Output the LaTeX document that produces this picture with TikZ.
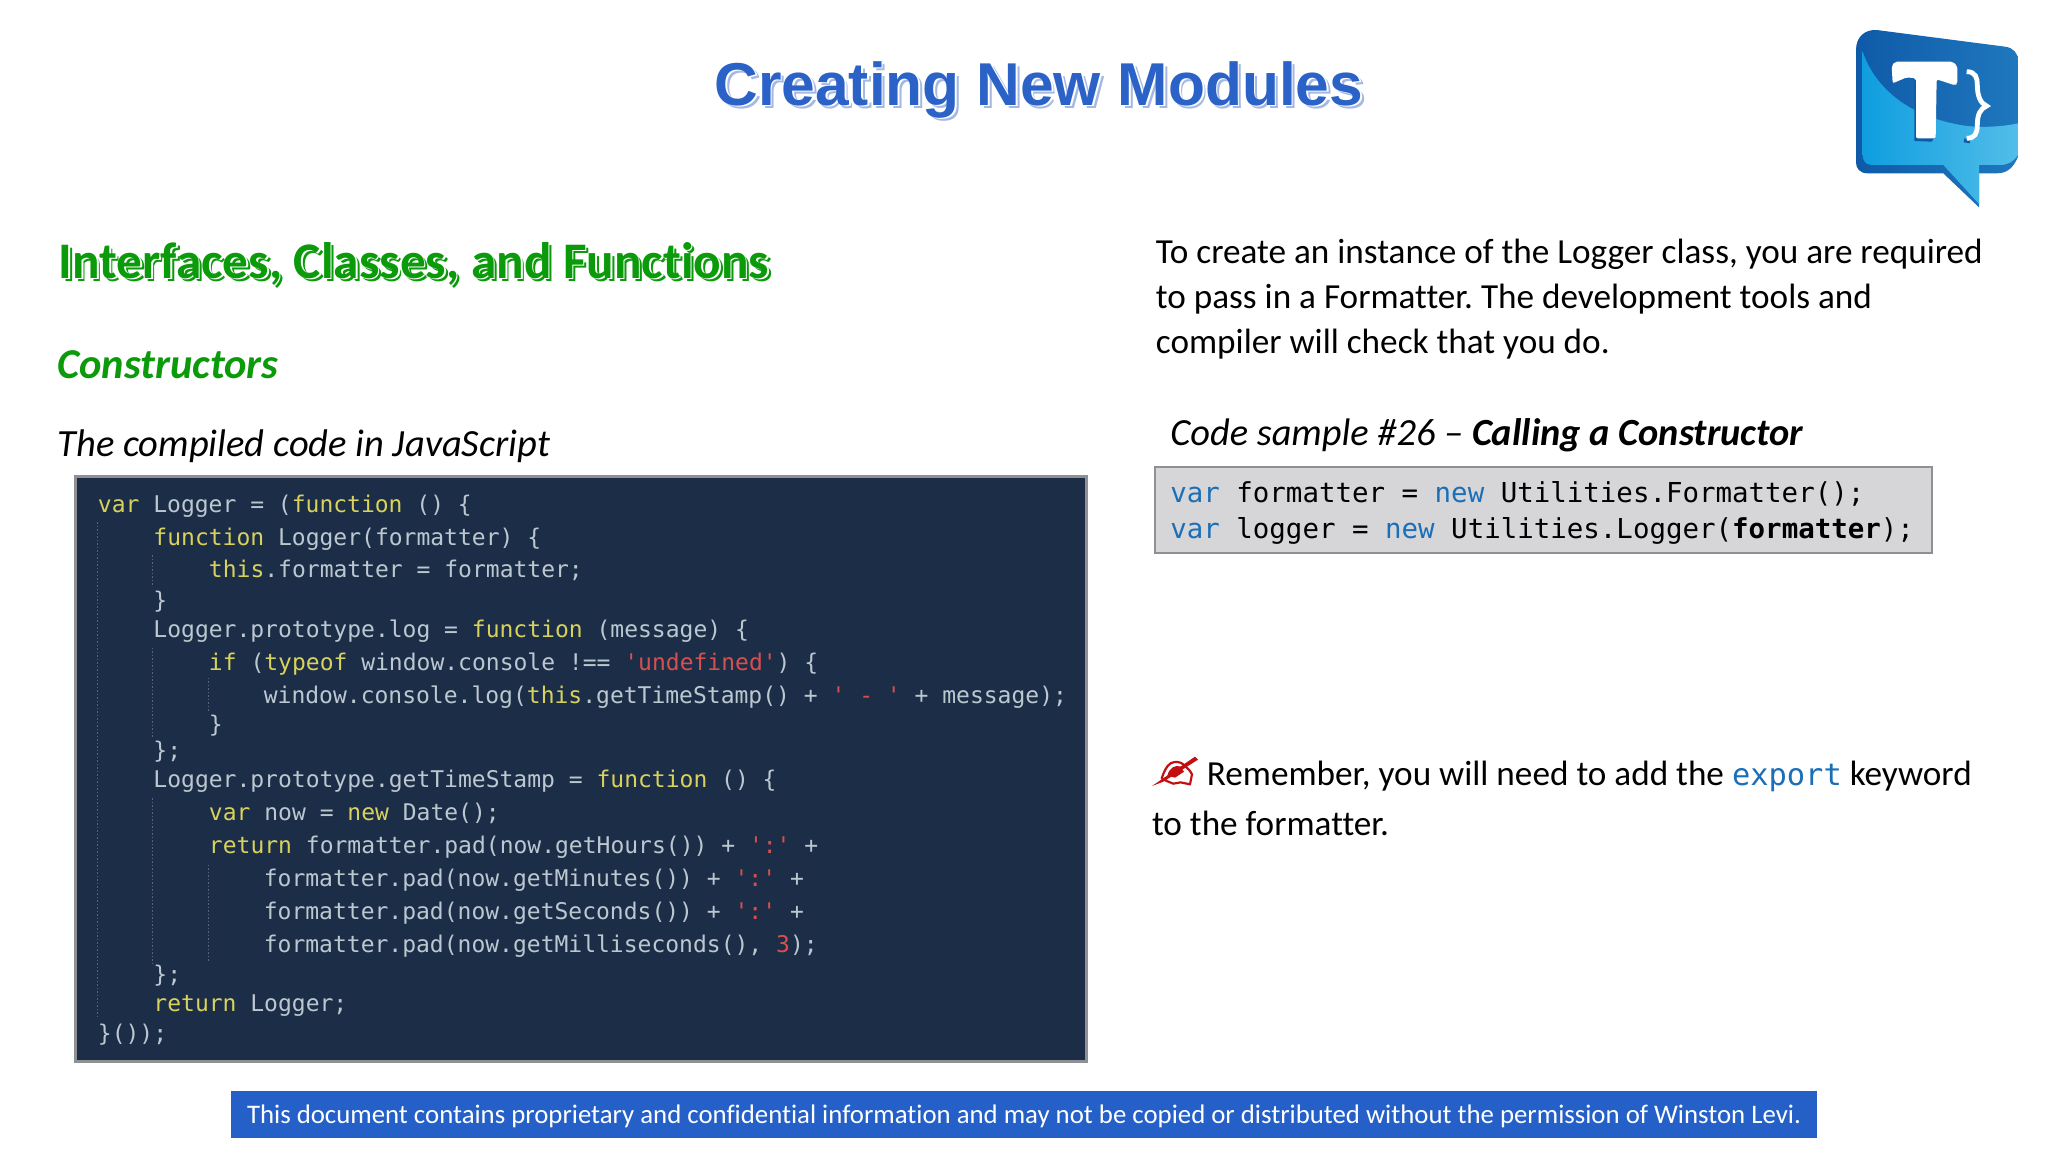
\documentclass[tikz,border=0pt]{standalone}
\usepackage{fontspec}
\setmainfont{Carlito}[Ligatures=NoCommon]
\newfontfamily\titlefont{Liberation Sans}[Scale=1.0]
\newfontfamily\monof{DejaVu Sans Mono}[Ligatures=NoCommon]
\frenchspacing
\definecolor{titleblue}{HTML}{2A62C8}
\definecolor{titleshade}{HTML}{A4B8E2}
\definecolor{headgreen}{HTML}{0A9A0A}
\definecolor{panelbg}{HTML}{1C2D47}
\definecolor{panelkw}{HTML}{D8D25C}
\definecolor{paneltx}{HTML}{BCC8D0}
\definecolor{panelstr}{HTML}{D6504E}
\definecolor{boxgray}{HTML}{D6D6D9}
\definecolor{boxedge}{HTML}{8E9094}
\definecolor{codeblue}{HTML}{1B6FB8}
\definecolor{footblue}{HTML}{2460C8}
\definecolor{penred}{HTML}{C40F12}
\definecolor{guide}{HTML}{56647A}
\definecolor{logoA}{HTML}{0F5AA8}
\definecolor{logoB}{HTML}{1F78BE}
\definecolor{logoC}{HTML}{0F9EDF}
\definecolor{logoD}{HTML}{52BDE9}
\definecolor{logoE}{HTML}{0F5AA8}
\newcommand{\kw}[1]{\textcolor{panelkw}{#1}}
\newcommand{\st}[1]{\textcolor{panelstr}{#1}}
\newcommand{\cb}[1]{\textcolor{codeblue}{#1}}
\newcommand{\shadowed}[4]{% shadow colour, offset, main colour, text
  \rlap{\kern#2\raisebox{-#2}{\textcolor{#1}{#4}}}%
  \rlap{\kern.5\dimexpr#2\relax\raisebox{-.5\dimexpr#2\relax}{\textcolor{white}{#4}}}%
  \textcolor{#3}{#4}}
\tikzset{
  txt/.style={anchor=base west,inner sep=0pt,outer sep=0pt},
  body/.style={txt,font=\fontsize{35.2pt}{40pt}\selectfont,text=black},
  pcode/.style={txt,font=\monof\fontsize{23pt}{23pt}\selectfont,text=paneltx},
  bcode/.style={txt,font=\monof\fontsize{27.45pt}{28pt}\selectfont,text=black},
  guideline/.style={draw=guide,line width=1pt,dash pattern=on 1.5pt off 2pt},
}
\begin{document}
\begin{tikzpicture}[x=1.30612pt,y=-1.30612pt]
\useasboundingbox[fill=white] (0,0) rectangle (1568,882);

% title and headings
\node[txt,font=\titlefont\bfseries\fontsize{60.5pt}{62pt}\selectfont] (title) at (547,80.5) {\shadowed{titleshade}{3.6pt}{titleblue}{Creating New Modules}};
\node[txt,font=\bfseries\fontsize{51.3pt}{54pt}\selectfont] (heading) at (45,213) {\shadowed{headgreen}{3.4pt}{headgreen}{Interfaces, Classes, and Functions}};
\node[txt,font=\bfseries\itshape\fontsize{42.5pt}{46pt}\selectfont,text=headgreen] (ctors) at (44,289.5) {Constructors};
\node[txt,font=\itshape\fontsize{38.5pt}{42pt}\selectfont] (compiled) at (44,349.7) {The compiled code in JavaScript};

% right paragraph
\node[body] (p1) at (885,201.5) {To create an instance of the Logger class, you are required};
\node[body] (p2) at (885,236) {to pass in a Formatter. The development tools and};
\node[body] (p3) at (885,270.7) {compiler will check that you do.};
\node[txt,font=\itshape\fontsize{38.4pt}{42pt}\selectfont] (sample) at (896,341) {Code sample \#26 – \textbf{Calling a Constructor}};

% grey code box
\node[draw=boxedge,fill=boxgray,line width=2pt,minimum width=776.8pt,minimum height=85.5pt,inner sep=0pt,anchor=north west] (cbox) at (883.5,357) {};
\node[bcode] (c1) at (896,385) {\cb{var} formatter = \cb{new} Utilities.Formatter();};
\node[bcode] (c2) at (896,412.5) {\cb{var} logger = \cb{new} Utilities.Logger(\textbf{formatter});};

% remember note
\begin{scope}[shift={(1140/1.30612,745/1.30612)},x=0.3333pt,y=-0.3333pt,line join=round,line cap=round]
  \draw[penred,line width=2.2pt] (65,100) .. controls (72,80) and (80,62) .. (92,55) .. controls (105,48) and (120,50) .. (130,58) .. controls (140,68) and (150,75) .. (156,88) -- (150,118) -- (122,112) -- (100,116) -- (80,108) -- cycle;
  \fill[penred] (82,92) .. controls (88,68) and (105,60) .. (120,64) -- (132,80) -- (105,98) -- cycle;
  \fill[penred] (36,123) -- (165,35) -- (174,44) -- (70,110) -- cycle;
\end{scope}
\node[body] (r1) at (924,601.7) {Remember, you will need to add the \textcolor{codeblue}{\monof\fontsize{30.4pt}{34pt}\selectfont export} keyword};
\node[body] (r2) at (882,640) {to the formatter.};

% dark code panel
\node[draw=boxedge,fill=panelbg,line width=3pt,minimum width=1011pt,minimum height=585pt,inner sep=0pt,anchor=north west] (panel) at (57,364) {};
\draw[guideline] (75,400) -- (75,780);
\draw[guideline] (117,425) -- (117,448);
\draw[guideline] (117,496) -- (117,564);
\draw[guideline] (117,611) -- (117,737);
\draw[guideline] (160,519) -- (160,544);
\draw[guideline] (160,662) -- (160,737);
\node[pcode] (l1)  at (75,392)    {\kw{var} Logger = (\kw{function} () \{};
\node[pcode] (l2)  at (117.5,417.7) {\kw{function} Logger(formatter) \{};
\node[pcode] (l3)  at (160,442.5)   {\kw{this}.formatter = formatter;};
\node[pcode] (l4)  at (117.5,466) {\}};
\node[pcode] (l5)  at (117.5,488) {Logger.prototype.log = \kw{function} (message) \{};
\node[pcode] (l6)  at (160,513)   {\kw{if} (\kw{typeof} window.console !== \st{'undefined'}) \{};
\node[pcode] (l7)  at (202,538.5)   {window.console.log(\kw{this}.getTimeStamp() + \st{' - '} + message);};
\node[pcode] (l8)  at (160,561)   {\}};
\node[pcode] (l9)  at (117.5,581) {\};};
\node[pcode] (l10) at (117.5,603) {Logger.prototype.getTimeStamp = \kw{function} () \{};
\node[pcode] (l11) at (160,628)   {\kw{var} now = \kw{new} Date();};
\node[pcode] (l12) at (160,653.7)   {\kw{return} formatter.pad(now.getHours()) + \st{':'} +};
\node[pcode] (l13) at (202,679)   {formatter.pad(now.getMinutes()) + \st{':'} +};
\node[pcode] (l14) at (202,704)   {formatter.pad(now.getSeconds()) + \st{':'} +};
\node[pcode] (l15) at (202,729)   {formatter.pad(now.getMilliseconds(), \st{3});};
\node[pcode] (l16) at (117.5,752) {\};};
\node[pcode] (l17) at (117.5,774.7) {\kw{return} Logger;};
\node[pcode] (l18) at (75,797.5)    {\}());};

% footer
\node[fill=footblue,minimum width=1585.5pt,minimum height=47pt,inner sep=0pt,anchor=north west] (foot) at (177,835) {};
\node[font=\fontsize{26.8pt}{30pt}\selectfont,text=white,inner sep=0pt] (foottext) at ([yshift=-2.2pt]foot.center) {This document contains proprietary and confidential information and may not be copied or distributed without the permission of Winston Levi.};

% logo
\begin{scope}[shift={(1780/1.30612,0)},x=0.3333pt,y=-0.3333pt]
  \shade[left color=logoA,right color=logoB] (228,150) .. controls (228,110) and (255,88) .. (290,90) -- (675,140) .. controls (700,143) and (714,160) .. (714,180) -- (714,470) .. controls (700,505) and (680,520) .. (650,520) -- (597,520) -- (597,622) -- (490,520) -- (262,520) .. controls (240,520) and (228,505) .. (228,488) -- cycle;
  \shade[left color=logoC,right color=logoD] (248,155) .. controls (280,250) and (370,350) .. (560,378) .. controls (620,384) and (680,378) .. (714,370) -- (714,465) .. controls (700,485) and (685,495) .. (660,495) -- (597,495) -- (597,612) -- (490,495) -- (275,495) .. controls (258,495) and (248,482) .. (248,465) -- cycle;
  \fill[logoE] (403,240) -- (403,423) -- (455,425) -- (465,410) -- (465,240) -- cycle;
  \fill[white,rounded corners=2pt] (335,198) -- (345,185) -- (518,185) -- (532,198) -- (532,252) -- (525,256) -- (470,238) -- (467,415) -- (408,415) -- (408,235) -- (380,232) -- (338,250) -- cycle;
  \draw[logoE,line width=4pt] (552,421) -- (570,424);
  \draw[white,line width=4.8pt] (560,215) .. controls (588,215) and (592,235) .. (592,255) .. controls (592,285) and (600,310) .. (620,318) .. controls (600,326) and (592,345) .. (592,375) .. controls (592,400) and (585,415) .. (560,415);
\end{scope}
\end{tikzpicture}
\end{document}
